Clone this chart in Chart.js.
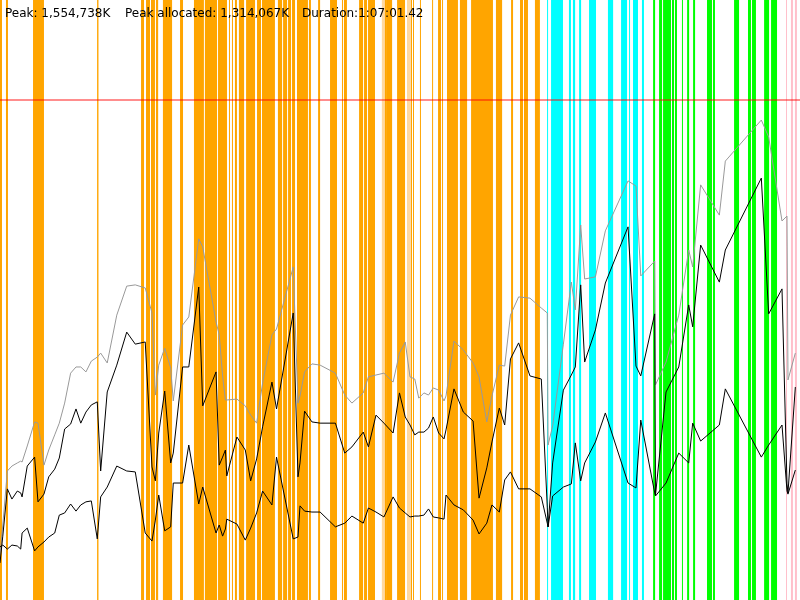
<!DOCTYPE html>
<html>
<head>
<meta charset="utf-8">
<title>Memory profile</title>
<script src="https://cdn.jsdelivr.net/npm/chart.js@4.4.0/dist/chart.umd.min.js"></script>
<style>
body { margin: 0; background: #fff; }
#wrap { width: 800px; height: 600px; }
</style>
</head>
<body>
<div id="wrap"><canvas id="memChart" width="800" height="600"></canvas></div>
<script>
// memory over the run: times in seconds, sizes in MB (thousands of K)
var runSeconds = 4021.42;
var axisMaxMB = 1944;
var heapLimitMB = 1620;

var sampleTimes = [0,14,37,60,87,104,111,137,174,191,
    221,245,275,298,325,355,382,406,432,459,
    489,506,539,587,637,680,730,764,781,798,
    828,858,871,918,949,999,1019,1086,1102,1119,
    1133,1140,1191,1233,1260,1290,1320,1367,1390,1474,
    1498,1508,1531,1568,1609,1686,1733,1769,1826,1852,
    1890,1930,1976,2008,2037,2061,2085,2105,2131,2154,
    2178,2205,2232,2242,2282,2329,2378,2408,2447,2473,
    2510,2537,2566,2607,2664,2721,2751,2755,2778,2832,2872,
    2892,2919,2939,2993,3043,3157,3197,3221,3291,3295,
    3348,3412,3462,3482,3522,3616,3646,3827,3864,3931,
    3956,3961,3998];

var committedMB = [146,243,418,434,444,450,447,499,577,573,
    437,486,535,573,638,735,755,755,739,774,
    787,800,768,923,1017,1021,1011,930,664,761,
    816,752,645,891,917,1170,1144,901,859,726,
    648,648,651,629,599,573,703,859,878,1079,
    638,661,739,765,761,735,664,638,671,723,
    729,735,706,800,836,723,716,654,671,664,
    687,680,645,661,839,810,768,723,577,661,
    761,758,923,982,978,946,930,502,564,829,1030,
    940,1215,1040,1047,1196,1358,1341,1050,1098,697,
    771,923,1134,1079,1345,1247,1422,1555,1500,1228,
    1244,713,800];

var usedMB = [120,207,360,327,353,347,334,434,463,318,
    343,399,424,460,554,570,619,573,609,632,
    642,418,674,761,868,829,836,431,386,541,
    677,444,476,755,755,1014,629,739,437,463,
    486,402,528,486,386,457,561,706,619,930,
    399,444,612,577,573,573,476,496,544,496,
    599,573,541,671,593,567,535,544,544,557,
    593,541,522,551,684,609,580,330,428,512,
    622,567,781,833,726,716,301,237,444,680,729,
    755,1021,771,875,1027,1209,758,726,927,340,
    674,755,956,885,1150,1030,1134,1367,927,1008,
    376,347,690];

var liveMB = [172,178,165,178,175,165,217,233,159,172,
    188,204,217,275,282,311,288,308,318,321,
    198,334,366,434,418,415,217,191,259,340,
    224,237,379,379,502,311,366,217,243,207,
    230,262,246,194,233,282,353,308,463,198,
    204,305,288,285,285,237,249,272,249,298,
    285,269,334,298,282,269,272,272,275,295,
    269,266,262,340,308,292,259,214,249,308,
    285,389,415,360,360,334,249,237,337,366,376,
    509,386,444,512,606,379,363,583,347,337,
    379,476,444,573,515,567,684,463,502,567,
    353,343,421];

// event spans [start, end] in seconds
var orangeSpans = [[0,10],[30,40],[166,221],[488,495],[709,724],[734,754],[759,779],[784,795],
    [819,865],[905,920],[975,1025],[1030,1091],[1096,1141],[1151,1156],[1166,1171],[1181,1191],
    [1201,1227],[1237,1282],[1292,1312],[1317,1382],[1397,1418],[1423,1443],[1448,1463],[1468,1483],
    [1493,1548],[1553,1563],[1599,1609],[1659,1694],[1719,1724],[1729,1744],[1805,1825],[1830,1845],
    [1850,1885],[1920,1945],[1945,1971],[1996,2036],[2046,2071],[2076,2081],[2111,2116],[2172,2177],
    [2202,2217],[2222,2227],[2247,2302],[2312,2348],[2368,2478],[2493,2524],[2569,2579],
    [2614,2629],[2634,2654],[2689,2714]];
var lightOrangeSpans = [[1920,1935],[2046,2061],[2051,2066]];
var cyanSpans = [[2750,2755],[2770,2830],[2860,2870],[2880,2891],[2911,2921],[2961,2996],
    [3056,3082],[3122,3152],[3162,3167],[3182,3207],[3227,3237]];
var greenSpans = [[3283,3293],[3313,3328],[3333,3373],[3378,3388],[3393,3403],[3428,3433],
    [3454,3464],[3484,3494],[3554,3579],[3584,3594],[3690,3715],[3760,3775],[3780,3800],
    [3841,3866],[3876,3906]];
var pinkSpans = [[3951,3956],[3976,3986],[3996,4006]];

var peakK = 1554738;
var peakAllocatedK = 1314067;
var durationText = '1:07:01.42';

function toPoints(values) {
    var pts = [];
    for (var i in sampleTimes) {
        pts.push({x: sampleTimes[i], y: values[i]});
    }
    return pts;
}

var spanPlugin = {
    id: 'spans',
    beforeDatasetsDraw: function(chart) {
        var ctx = chart.ctx;
        var xs = chart.scales.x;
        var area = chart.chartArea;
        var groups = [[orangeSpans, '#ffa500'], [lightOrangeSpans, '#ffd9a0'], [cyanSpans, '#00ffff'],
            [greenSpans, '#00ff00'], [pinkSpans, '#ffc0cb']];
        ctx.save();
        groups.forEach(function(g) {
            ctx.fillStyle = g[1];
            g[0].forEach(function(s) {
                var x0 = xs.getPixelForValue(s[0]);
                var x1 = xs.getPixelForValue(s[1]);
                ctx.fillRect(x0, area.top, x1 - x0, area.bottom - area.top);
            });
        });
        ctx.restore();
    }
};

var headerPlugin = {
    id: 'header',
    afterDraw: function(chart) {
        var ctx = chart.ctx;
        ctx.save();
        ctx.font = '12px "DejaVu Sans"';
        ctx.fillStyle = '#000';
        ctx.textBaseline = 'alphabetic';
        ctx.fillText('Peak: ' + peakK.toLocaleString('en-US') + 'K', 5, 17);
        ctx.fillText('Peak allocated: ' + peakAllocatedK.toLocaleString('en-US') + 'K', 125, 17);
        ctx.fillText('Duration:' + durationText, 302, 17);
        ctx.restore();
    }
};

window.onload = () => {
    var ctx = document.getElementById('memChart').getContext('2d');
    var memChart = new Chart(ctx, {
        type: 'line',
        data: {
            datasets: [{
                data: toPoints(liveMB),
                borderColor: '#000',
                borderWidth: 1,
                pointRadius: 0,
                tension: 0
            }, {
                data: toPoints(usedMB),
                borderColor: '#000',
                borderWidth: 1,
                pointRadius: 0,
                tension: 0
            }, {
                data: toPoints(committedMB),
                borderColor: '#999999',
                borderWidth: 1,
                pointRadius: 0,
                tension: 0
            }, {
                data: [{x: 0, y: heapLimitMB}, {x: runSeconds, y: heapLimitMB}],
                borderColor: 'rgba(255, 0, 0, 0.6)',
                borderWidth: 1.5,
                pointRadius: 0
            }]
        },
        options: {
            responsive: false,
            animation: false,
            devicePixelRatio: 1,
            layout: { padding: 0 },
            plugins: {
                legend: { display: false },
                tooltip: { enabled: false }
            },
            scales: {
                x: { type: 'linear', min: 0, max: runSeconds, display: false },
                y: { min: 0, max: axisMaxMB, display: false }
            }
        },
        plugins: [spanPlugin, headerPlugin]
    });
}
</script>
</body>
</html>
